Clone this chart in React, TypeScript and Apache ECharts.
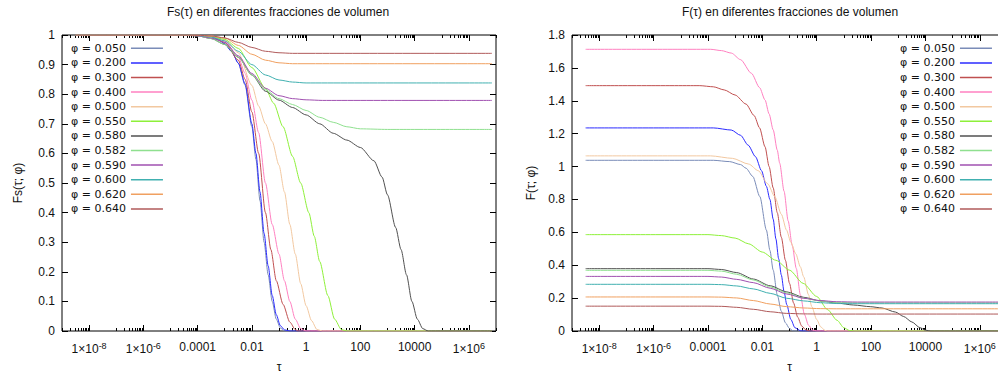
import React, { useEffect, useRef } from 'react';
import * as echarts from 'echarts';

// ---- Data: [log10(tau), value] pairs ----
const phiLabels = ['φ = 0.050', 'φ = 0.200', 'φ = 0.300', 'φ = 0.400', 'φ = 0.500', 'φ = 0.550', 'φ = 0.580', 'φ = 0.582', 'φ = 0.590', 'φ = 0.600', 'φ = 0.620', 'φ = 0.640'];
const colors = ['#7a8cb8', '#2b2bff', '#c05050', '#ff80c0', '#f2c8a0', '#8ef03a', '#505050', '#8fe08f', '#a050b0', '#40b0b0', '#f0a060', '#b05a5a'];

// Fs(tau; phi)
const fs050 = [[-8.5, 1], [-4, 0.999], [-3.5, 0.995], [-3.25, 0.985], [-3, 0.97], [-2.75, 0.945], [-2.5, 0.905], [-2.25, 0.83], [-2, 0.69], [-1.85, 0.58], [-1.7, 0.44], [-1.55, 0.3], [-1.4, 0.19], [-1.25, 0.1], [-1.1, 0.04], [-0.95, 0.01], [-0.8, 0], [6.85, 0]];
const fs200 = [[-8.5, 1], [-4, 0.999], [-3.5, 0.995], [-3.25, 0.985], [-3, 0.97], [-2.75, 0.945], [-2.5, 0.905], [-2.25, 0.835], [-2, 0.7], [-1.85, 0.6], [-1.7, 0.47], [-1.55, 0.33], [-1.4, 0.22], [-1.25, 0.12], [-1.1, 0.055], [-0.95, 0.018], [-0.8, 0.004], [-0.6, 0], [6.85, 0]];
const fs300 = [[-8.5, 1], [-4, 0.999], [-3.5, 0.995], [-3, 0.975], [-2.5, 0.915], [-2.25, 0.85], [-2, 0.74], [-1.75, 0.6], [-1.5, 0.4], [-1.3, 0.275], [-1.1, 0.17], [-0.85, 0.09], [-0.6, 0.03], [-0.4, 0.005], [-0.3, 0], [6.85, 0]];
const fs400 = [[-8.5, 1], [-4, 0.999], [-3.5, 0.996], [-3, 0.98], [-2.5, 0.925], [-2.25, 0.87], [-2, 0.78], [-1.75, 0.67], [-1.5, 0.5], [-1.25, 0.36], [-1, 0.26], [-0.8, 0.17], [-0.6, 0.1], [-0.4, 0.04], [-0.2, 0.008], [0, 0], [6.85, 0]];
const fs500 = [[-8.5, 1], [-4, 0.999], [-3.5, 0.997], [-3, 0.985], [-2.5, 0.94], [-2, 0.83], [-1.75, 0.76], [-1.5, 0.7], [-1.25, 0.64], [-1, 0.56], [-0.8, 0.47], [-0.6, 0.36], [-0.4, 0.26], [-0.2, 0.16], [0, 0.085], [0.2, 0.035], [0.4, 0.005], [0.6, 0], [6.85, 0]];
const fs550 = [[-8.5, 1], [-4, 0.999], [-3.5, 0.995], [-3, 0.985], [-2.5, 0.955], [-2, 0.89], [-1.5, 0.82], [-1.2, 0.77], [-0.85, 0.69], [-0.5, 0.59], [-0.2, 0.5], [0.1, 0.4], [0.3, 0.32], [0.5, 0.235], [0.8, 0.12], [1.05, 0.04], [1.3, 0.005], [1.5, 0], [6.85, 0]];
const fs580 = [[-8.5, 1], [-4.5, 1], [-4, 0.997], [-3.5, 0.988], [-3, 0.968], [-2.5, 0.925], [-2, 0.865], [-1.5, 0.81], [-1, 0.78], [-0.5, 0.755], [0, 0.73], [0.5, 0.7], [1, 0.668], [1.5, 0.645], [2, 0.62], [2.5, 0.575], [2.8, 0.52], [3, 0.46], [3.3, 0.35], [3.5, 0.275], [3.7, 0.19], [3.9, 0.1], [4.1, 0.04], [4.3, 0.008], [4.5, 0], [6.85, 0]];
const fs582 = [[-8.5, 1], [-4.5, 1], [-4, 0.997], [-3.5, 0.988], [-3, 0.968], [-2.5, 0.925], [-2, 0.865], [-1.5, 0.815], [-1, 0.785], [-0.5, 0.765], [0, 0.745], [0.5, 0.722], [1, 0.705], [1.5, 0.69], [2, 0.683], [3, 0.681], [6.85, 0.681]];
const fs590 = [[-8.5, 1], [-4.5, 1], [-4, 0.997], [-3.5, 0.99], [-3, 0.975], [-2.5, 0.93], [-2, 0.87], [-1.5, 0.82], [-1, 0.795], [-0.5, 0.785], [0, 0.781], [0.6, 0.779], [6.85, 0.779]];
const fs600 = [[-8.5, 1], [-4.5, 1], [-4, 0.998], [-3.5, 0.993], [-3, 0.98], [-2.5, 0.945], [-2, 0.9], [-1.5, 0.865], [-1, 0.848], [-0.5, 0.841], [0, 0.838], [6.85, 0.838]];
const fs620 = [[-8.5, 1], [-4.5, 1], [-4, 0.999], [-3.5, 0.996], [-3, 0.99], [-2.5, 0.965], [-2, 0.935], [-1.5, 0.915], [-1, 0.906], [-0.5, 0.903], [6.85, 0.903]];
const fs640 = [[-8.5, 1], [-4.5, 1], [-4, 0.999], [-3.5, 0.997], [-3, 0.99], [-2.5, 0.975], [-2, 0.958], [-1.5, 0.945], [-1, 0.94], [-0.5, 0.938], [6.85, 0.938]];

// F(tau; phi)
const f050 = [[-8.5, 1.038], [-3.8, 1.038], [-3.2, 1.03], [-2.8, 1.012], [-2.6, 0.99], [-2.35, 0.94], [-2.09, 0.817], [-1.85, 0.614], [-1.72, 0.49], [-1.6, 0.37], [-1.45, 0.22], [-1.3, 0.12], [-1.15, 0.05], [-1, 0.015], [-0.85, 0], [6.85, 0]];
const f200 = [[-8.5, 1.235], [-3.8, 1.235], [-3.14, 1.222], [-2.8, 1.19], [-2.52, 1.13], [-2.25, 1.06], [-2.03, 0.975], [-1.85, 0.88], [-1.72, 0.8], [-1.6, 0.68], [-1.5, 0.56], [-1.4, 0.44], [-1.3, 0.34], [-1.2, 0.24], [-1.1, 0.16], [-0.95, 0.07], [-0.8, 0.02], [-0.6, 0.002], [-0.5, 0], [6.85, 0]];
const f300 = [[-8.5, 1.492], [-4.3, 1.492], [-3.8, 1.485], [-3.4, 1.466], [-3, 1.435], [-2.6, 1.38], [-2.3, 1.31], [-2.1, 1.235], [-1.9, 1.12], [-1.75, 1.0], [-1.6, 0.87], [-1.45, 0.72], [-1.3, 0.57], [-1.15, 0.43], [-1, 0.29], [-0.85, 0.17], [-0.7, 0.085], [-0.55, 0.03], [-0.4, 0.007], [-0.25, 0], [6.85, 0]];
const f400 = [[-8.5, 1.713], [-3.9, 1.713], [-3.5, 1.705], [-3.14, 1.69], [-2.8, 1.65], [-2.4, 1.567], [-2.1, 1.48], [-1.9, 1.405], [-1.75, 1.32], [-1.6, 1.223], [-1.45, 1.1], [-1.36, 1.02], [-1.2, 0.85], [-1.05, 0.67], [-0.9, 0.52], [-0.75, 0.38], [-0.6, 0.22], [-0.45, 0.1], [-0.3, 0.035], [-0.15, 0.006], [0, 0], [6.85, 0]];
const f500 = [[-8.5, 1.065], [-3.9, 1.065], [-3.1, 1.05], [-2.5, 1.015], [-2.15, 0.975], [-1.8, 0.895], [-1.54, 0.817], [-1.3, 0.71], [-1.11, 0.614], [-0.95, 0.54], [-0.77, 0.47], [-0.6, 0.39], [-0.48, 0.33], [-0.3, 0.22], [-0.18, 0.148], [0, 0.07], [0.15, 0.025], [0.3, 0.004], [0.4, 0], [6.85, 0]];
const f550 = [[-8.5, 0.586], [-4, 0.586], [-3.5, 0.58], [-3, 0.565], [-2.5, 0.53], [-2, 0.48], [-1.5, 0.43], [-1, 0.37], [-0.5, 0.29], [0, 0.21], [0.4, 0.13], [0.75, 0.065], [1, 0.02], [1.2, 0.003], [1.4, 0], [6.85, 0]];
const f580 = [[-8.5, 0.379], [-4, 0.379], [-3.5, 0.374], [-2.94, 0.355], [-2.33, 0.316], [-1.71, 0.275], [-1.1, 0.238], [-0.48, 0.205], [0.13, 0.183], [0.74, 0.17], [1.36, 0.158], [1.97, 0.148], [2.4, 0.14], [2.9, 0.115], [3.2, 0.088], [3.5, 0.055], [3.8, 0.02], [4, 0.005], [4.2, 0], [6.85, 0]];
const f582 = [[-8.5, 0.369], [-4, 0.369], [-3.5, 0.364], [-2.94, 0.345], [-2.33, 0.31], [-1.71, 0.268], [-1.1, 0.232], [-0.48, 0.2], [0.13, 0.182], [0.74, 0.174], [1.5, 0.171], [6.85, 0.171]];
const f590 = [[-8.5, 0.332], [-4, 0.332], [-3.5, 0.328], [-2.94, 0.314], [-2.33, 0.294], [-1.71, 0.26], [-1.1, 0.225], [-0.48, 0.199], [0.13, 0.185], [0.74, 0.178], [1.5, 0.176], [6.85, 0.176]];
const f600 = [[-8.5, 0.284], [-4, 0.284], [-3.5, 0.282], [-2.94, 0.274], [-2.33, 0.256], [-1.71, 0.229], [-1.1, 0.199], [-0.48, 0.183], [0.13, 0.172], [0.74, 0.167], [1.5, 0.166], [6.85, 0.166]];
const f620 = [[-8.5, 0.207], [-4, 0.207], [-3.5, 0.206], [-2.94, 0.201], [-2.33, 0.185], [-1.71, 0.164], [-1.1, 0.148], [-0.48, 0.14], [0.13, 0.136], [0.74, 0.135], [6.85, 0.135]];
const f640 = [[-8.5, 0.151], [-4, 0.151], [-3.5, 0.15], [-2.94, 0.144], [-2.33, 0.132], [-1.71, 0.117], [-1.1, 0.107], [-0.48, 0.104], [0.2, 0.103], [6.85, 0.103]];

const fsData = [fs050, fs200, fs300, fs400, fs500, fs550, fs580, fs582, fs590, fs600, fs620, fs640];
const fData = [f050, f200, f300, f400, f500, f550, f580, f582, f590, f600, f620, f640];

// Axis ticks
const xMajorTicks = [1e-8, 1e-6, 1e-4, 1e-2, 1, 1e2, 1e4, 1e6];
const xMinorExponents = [-9, -7, -5, -3, -1, 1, 3, 5, 7];
const xMinorMultipliers = [1, 2, 3, 4, 5, 6, 7, 8, 9];
const xMinorTicks: number[] = [];
xMinorExponents.forEach((k) => xMinorMultipliers.forEach((m) => { const v = m * Math.pow(10, k); if (v <= 1e7 * 1.0001) xMinorTicks.push(v); }));

const FONT = 'Liberation Sans';
const LEGEND_FONT = 'DejaVu Sans';
const TXT = '#111';

function fmtTau(v: number) {
  const e = Math.round(Math.log10(v));
  if (e <= -5 || e >= 5) return `1×10{sup|${e}}`;
  if (e >= 0) return String(Math.round(v));
  return v.toFixed(-e);
}

const grids = [
  { left: 62, top: 35, width: 434, height: 296 },
  { left: 572, top: 35, width: 435, height: 296 },
];

function buildOption() {
  const xAxis: any[] = [];
  const yAxis: any[] = [];
  grids.forEach((g, gi) => {
    const base = { type: 'log', logBase: 10, min: 1e-9, max: 1e7, gridIndex: gi, splitLine: { show: false }, axisLine: { show: false }, minorTick: { show: false } };
    xAxis.push({
      ...base, position: 'bottom',
      name: 'τ', nameLocation: 'middle', nameGap: 30,
      nameTextStyle: { fontFamily: FONT, fontSize: 12, color: TXT },
      axisTick: { show: true, inside: true, length: 6, customValues: xMajorTicks, lineStyle: { color: '#000', width: 1 } },
      axisLabel: {
        show: true, customValues: xMajorTicks, formatter: fmtTau, margin: 10,
        fontFamily: FONT, fontSize: 12, color: TXT,
        rich: { sup: { fontFamily: FONT, fontSize: 9, color: TXT, verticalAlign: 'top', padding: [0, 0, 6, 0] } },
      },
    });
    xAxis.push({ ...base, position: 'bottom', axisTick: { show: true, inside: true, length: 3, customValues: xMinorTicks, lineStyle: { color: '#000', width: 1 } }, axisLabel: { show: false } });
    xAxis.push({ ...base, position: 'top', axisTick: { show: true, inside: true, length: 6, customValues: xMajorTicks, lineStyle: { color: '#000', width: 1 } }, axisLabel: { show: false } });
    xAxis.push({ ...base, position: 'top', axisTick: { show: true, inside: true, length: 3, customValues: xMinorTicks, lineStyle: { color: '#000', width: 1 } }, axisLabel: { show: false } });

    const ymax = gi === 0 ? 1 : 1.8;
    const yint = gi === 0 ? 0.1 : 0.2;
    const ybase = { type: 'value', min: 0, max: ymax, interval: yint, gridIndex: gi, splitLine: { show: false }, axisLine: { show: false } };
    yAxis.push({
      ...ybase, position: 'left',
      name: gi === 0 ? 'Fs(τ; φ)' : 'F(τ; φ)', nameLocation: 'middle', nameGap: gi === 0 ? 38 : 35,
      nameTextStyle: { fontFamily: FONT, fontSize: 12, color: TXT },
      axisTick: { show: true, inside: true, length: 6, lineStyle: { color: '#000' } },
      axisLabel: { show: true, margin: 7, fontFamily: FONT, fontSize: 12, color: TXT },
    });
    yAxis.push({ ...ybase, position: 'right', axisTick: { show: true, inside: true, length: 6, lineStyle: { color: '#000' } }, axisLabel: { show: false } });
  });

  const series: any[] = [];
  [fsData, fData].forEach((panel, gi) => {
    panel.forEach((arr, i) => {
      series.push({
        type: 'line', name: phiLabels[i], xAxisIndex: gi * 4, yAxisIndex: gi * 2,
        data: arr.map(([e, v]) => [Math.pow(10, e), v]),
        showSymbol: false, symbol: 'none', smooth: 0.25, smoothMonotone: 'x',
        lineStyle: { width: 1, color: colors[i] }, itemStyle: { color: colors[i] },
        silent: true, emphasis: { disabled: true }, clip: true,
      });
    });
  });

  const legendBase = {
    orient: 'vertical', align: 'right', icon: 'rect', itemWidth: 32, itemHeight: 1.5, itemGap: 0,
    selectedMode: false, top: 41, padding: 0, data: phiLabels,
    textStyle: { fontFamily: LEGEND_FONT, fontSize: 11, color: TXT, lineHeight: 14.6 },
  };

  return {
    animation: false,
    textStyle: { fontFamily: FONT },
    title: [
      { text: 'Fs(τ) en diferentes fracciones de volumen', left: 278, top: 6, textAlign: 'center', padding: 0, textStyle: { fontFamily: FONT, fontSize: 12, fontWeight: 'normal', color: TXT } },
      { text: 'F(τ) en diferentes fracciones de volumen', left: 790, top: 6, textAlign: 'center', padding: 0, textStyle: { fontFamily: FONT, fontSize: 12, fontWeight: 'normal', color: TXT } },
    ],
    legend: [
      { ...legendBase, left: 71 },
      { ...legendBase, left: 900 },
    ],
    grid: grids.map((g) => ({ ...g, show: true, borderColor: '#000', borderWidth: 1, backgroundColor: 'transparent', containLabel: false, outerBoundsMode: 'none' })),
    xAxis, yAxis, series,
  };
}

export default function App() {
  const ref = useRef<HTMLDivElement>(null);
  useEffect(() => {
    document.body.style.margin = '0';
    const chart = echarts.init(ref.current as HTMLDivElement, null, { renderer: 'svg' });
    chart.setOption(buildOption() as any);
    return () => chart.dispose();
  }, []);
  return (
    <div style={{ width: 998, height: 375, overflow: 'hidden', position: 'relative', background: '#fff' }}>
      <div ref={ref} style={{ width: 1012, height: 375 }} />
    </div>
  );
}
